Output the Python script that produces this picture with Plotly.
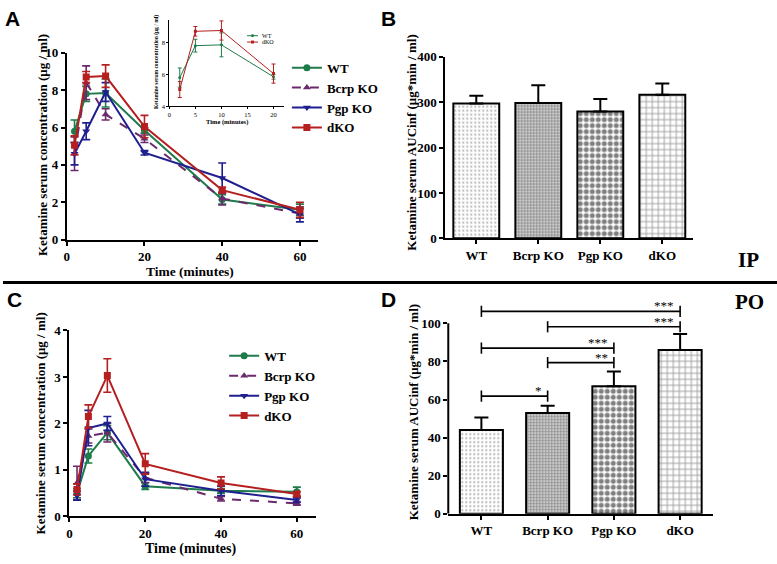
import plotly.graph_objects as go

W, H = 777, 564
SERIF = "Liberation Serif"
SANS = "Liberation Sans"

# ---- data ----
time_min = [2, 5, 10, 20, 40, 60]
series_names = ["WT", "Bcrp KO", "Pgp KO", "dKO"]

ip_wt = [5.8, 7.8, 7.85, 5.85, 2.15, 1.6]
ip_wt_err = [0.6, 0.4, 0.75, 0.15, 0.25, 0.3]
ip_bcrp = [4.6, 8.4, 6.7, 5.4, 2.2, 1.4]
ip_bcrp_err = [0.9, 0.9, 0.3, 0.2, 0.35, 0.25]
ip_pgp = [4.6, 5.8, 7.9, 4.65, 3.3, 1.35]
ip_pgp_err = [0.6, 0.45, 0.5, 0.12, 0.8, 0.4]
ip_dko = [5.05, 8.7, 8.75, 6.05, 2.65, 1.6]
ip_dko_err = [0.5, 0.3, 0.6, 0.6, 0.15, 0.4]

po_wt = [0.5, 1.3, 1.8, 0.65, 0.55, 0.53]
po_wt_err = [0.1, 0.15, 0.15, 0.07, 0.05, 0.1]
po_bcrp = [0.72, 1.73, 1.8, 0.83, 0.38, 0.28]
po_bcrp_err = [0.36, 0.15, 0.2, 0.1, 0.05, 0.04]
po_pgp = [0.45, 1.9, 2.0, 0.8, 0.55, 0.35]
po_pgp_err = [0.1, 0.38, 0.15, 0.15, 0.1, 0.05]
po_dko = [0.58, 2.15, 3.03, 1.13, 0.72, 0.48]
po_dko_err = [0.12, 0.25, 0.36, 0.22, 0.13, 0.05]

groups = ["WT", "Bcrp KO", "Pgp KO", "dKO"]
auc_ip = [297, 298, 279, 316]
auc_ip_err = [17, 39, 28, 25]
auc_po = [44, 53, 67, 86]
auc_po_err = [6.6, 3.7, 7.7, 8.4]

# significance brackets for PO AUC
sig_from = ["WT", "Bcrp KO", "WT", "Bcrp KO", "WT"]
sig_to = ["dKO", "dKO", "Pgp KO", "Pgp KO", "Bcrp KO"]
sig_level = [106.3, 98.2, 87, 79.4, 61.8]
sig_label = ["***", "***", "***", "**", "*"]

colors = ["#1e7b4b", "#6b2a6b", "#1f1f8f", "#b51f1f"]
symbols = ["circle", "triangle-up", "triangle-down", "square"]
dashes = ["solid", "dash", "solid", "solid"]


def px_x(v):
    return v / W


def px_y(v):
    return 1 - v / H


def axis_style(size=13, lw=2, tl=4, weight="bold"):
    return dict(
        showline=True, linecolor="black", linewidth=lw,
        ticks="outside", ticklen=tl, tickwidth=lw, tickcolor="black",
        showgrid=False, zeroline=False, fixedrange=True,
        tickfont=dict(family=SERIF, size=size, color="black", weight=weight),
    )


fig = go.Figure()

ip_vals = [ip_wt, ip_bcrp, ip_pgp, ip_dko]
ip_errs = [ip_wt_err, ip_bcrp_err, ip_pgp_err, ip_dko_err]
po_vals = [po_wt, po_bcrp, po_pgp, po_dko]
po_errs = [po_wt_err, po_bcrp_err, po_pgp_err, po_dko_err]

# panels A and C: time courses
for vals, errs, xa, ya, leg in [(ip_vals, ip_errs, "x", "y", "legend"),
                                (po_vals, po_errs, "x4", "y4", "legend2")]:
    for i, name in enumerate(series_names):
        fig.add_trace(go.Scatter(
            x=time_min, y=vals[i], name=name, xaxis=xa, yaxis=ya, legend=leg,
            mode="lines+markers",
            line=dict(color=colors[i], width=2, dash=dashes[i]),
            marker=dict(symbol=symbols[i], size=7, color=colors[i]),
            error_y=dict(type="data", array=errs[i], color=colors[i],
                         thickness=1.6, width=4),
        ))

# inset: WT vs dKO, first 20 minutes
for i in [0, 3]:
    fig.add_trace(go.Scatter(
        x=time_min[:4], y=ip_vals[i][:4], name=series_names[i],
        xaxis="x2", yaxis="y2", showlegend=False,
        mode="lines+markers",
        line=dict(color=colors[i], width=1),
        marker=dict(symbol="circle" if i == 0 else "square", size=3, color=colors[i]),
        error_y=dict(type="data", array=ip_errs[i][:4], color=colors[i],
                     thickness=1, width=2),
    ))

patterns = [
    dict(shape=".", fgcolor="#777777", bgcolor="white", size=4, solidity=0.25),
    dict(shape=".", fgcolor="#222222", bgcolor="white", size=3, solidity=0.7),
    dict(shape=".", fgcolor="black", bgcolor="white", size=6, solidity=0.55),
    dict(shape="+", fgcolor="#444444", bgcolor="white", size=6, solidity=0.3),
]

for auc, err, xa, ya, bw in [(auc_ip, auc_ip_err, "x3", "y3", 0.74),
                             (auc_po, auc_po_err, "x5", "y5", 0.65)]:
    for i, g in enumerate(groups):
        fig.add_trace(go.Bar(
            x=[g], y=[auc[i]], xaxis=xa, yaxis=ya, width=bw, showlegend=False,
            marker=dict(color="white", line=dict(color="black", width=2),
                        pattern=patterns[i]),
            error_y=dict(type="data", array=[err[i]], arrayminus=[0],
                         symmetric=False, color="black", thickness=2, width=7),
        ))

# significance brackets
for a, b, lvl, lab in zip(sig_from, sig_to, sig_level, sig_label):
    fig.add_trace(go.Scatter(
        x=[a, b], y=[lvl, lvl], xaxis="x5", yaxis="y5", showlegend=False,
        mode="lines+markers", line=dict(color="black", width=1.6),
        marker=dict(symbol="line-ns", size=8, line=dict(color="black", width=1.6)),
        cliponaxis=False, hoverinfo="skip",
    ))
    fig.add_annotation(x=b, y=lvl, xref="x5", yref="y5", text=lab, showarrow=False,
                       xanchor="right", yanchor="bottom", xshift=-4, yshift=-4,
                       font=dict(family=SERIF, size=13, color="black"))

ax_a = axis_style()
ax_inset = axis_style(size=6.5, lw=1, tl=2, weight="normal")

fig.update_layout(
    width=W, height=H, margin=dict(l=0, r=0, t=0, b=0),
    paper_bgcolor="white", plot_bgcolor="rgba(0,0,0,0)",
    font=dict(family=SERIF, color="black"),
    xaxis=dict(**ax_a, domain=[px_x(64), px_x(316)], range=[0, 64.6],
               tickvals=[0, 20, 40, 60], anchor="y"),
    yaxis=dict(**ax_a, domain=[px_y(239), px_y(47)], range=[0, 10],
               tickvals=[0, 2, 4, 6, 8, 10], anchor="x"),
    xaxis2=dict(**ax_inset, domain=[px_x(167), px_x(282)], range=[0, 22],
                tickvals=[0, 5, 10, 15, 20], anchor="y2"),
    yaxis2=dict(**ax_inset, domain=[px_y(102), px_y(13)], range=[4, 9.43],
                tickvals=[4, 6, 8], anchor="x2"),
    xaxis3=dict(**ax_a, domain=[px_x(444), px_x(693)], type="category",
                range=[-0.5, 3.5], anchor="y3"),
    yaxis3=dict(**ax_a, domain=[px_y(237.7), px_y(51)], range=[0, 400],
                tickvals=[0, 100, 200, 300, 400], anchor="x3"),
    xaxis4=dict(**ax_a, domain=[px_x(66.7), px_x(314)], range=[0, 65],
                tickvals=[0, 20, 40, 60], anchor="y4"),
    yaxis4=dict(**ax_a, domain=[px_y(523.3), px_y(332.3)], range=[0, 4],
                tickvals=[0, 1, 2, 3, 4], anchor="x4"),
    xaxis5=dict(**ax_a, domain=[px_x(447), px_x(713)], type="category",
                range=[-0.5, 3.5], anchor="y5"),
    yaxis5=dict(**{**ax_a, "showline": False}, domain=[px_y(520.7), px_y(305.4)],
                range=[0, 110], tickvals=[0, 20, 40, 60, 80, 100], anchor="x5"),
    legend=dict(x=px_x(285), y=px_y(47), xanchor="left", yanchor="top",
                bgcolor="rgba(0,0,0,0)", tracegroupgap=0,
                font=dict(family=SERIF, size=13, color="black", weight="bold")),
    legend2=dict(x=px_x(222), y=px_y(343), xanchor="left", yanchor="top",
                 bgcolor="rgba(0,0,0,0)", tracegroupgap=0,
                 font=dict(family=SERIF, size=13, color="black", weight="bold")),
)

# y axis line of panel D stops at 100
fig.add_shape(type="line", xref="x5 domain", yref="y5", x0=0, x1=0, y0=0, y1=100,
              line=dict(color="black", width=2))

# divider between IP and PO rows
fig.add_shape(type="line", xref="paper", yref="paper", x0=0, x1=1,
              y0=px_y(283), y1=px_y(283), line=dict(color="black", width=3))

# small key for the inset (WT / dKO)
for i, ky in [(0, 29.5), (3, 36)]:
    fig.add_shape(type="line", xref="paper", yref="paper",
                  x0=px_x(245), x1=px_x(256), y0=px_y(ky), y1=px_y(ky),
                  line=dict(color=colors[i], width=1))
    fig.add_shape(type="circle" if i == 0 else "rect", xref="paper", yref="paper",
                  x0=px_x(249), x1=px_x(252), y0=px_y(ky - 1.5), y1=px_y(ky + 1.5),
                  fillcolor=colors[i], line=dict(width=0))
    fig.add_annotation(x=px_x(258), y=px_y(ky), xref="paper", yref="paper",
                       text=series_names[i], showarrow=False,
                       xanchor="left", yanchor="middle",
                       font=dict(family=SERIF, size=6, color="black"))


def label(text, x, y, size, family=SERIF, angle=0, weight="bold"):
    fig.add_annotation(x=px_x(x), y=px_y(y), xref="paper", yref="paper", text=text,
                       showarrow=False, xanchor="center", yanchor="middle",
                       textangle=angle,
                       font=dict(family=family, size=size, color="black", weight=weight))


label("A", 10, 12, 21, SANS)
label("B", 387, 12, 21, SANS)
label("C", 12, 300, 21, SANS)
label("D", 387, 300, 21, SANS)
label("IP", 748, 260, 21)
label("PO", 749, 303, 21)

conc_title = "Ketamine serum concentration (μg / ml)"
auc_title = "Ketamine serum AUCinf (μg*min / ml)"
label(conc_title, 39, 142, 13, angle=-90)
label(auc_title, 410, 139, 13, angle=-90)
label(conc_title, 38, 428, 13, angle=-90)
label(auc_title, 413, 416, 13, angle=-90)
label("Time (minutes)", 188, 271.5, 13.5)
label("Time (minutes)", 188, 557, 14)
label(conc_title, 154, 56, 5.5, angle=-90)
label("Time (minutes)", 225, 118, 6.5)

fig.write_html("out.html", config={"displayModeBar": False},
               post_script="document.body.style.margin = '0';")
